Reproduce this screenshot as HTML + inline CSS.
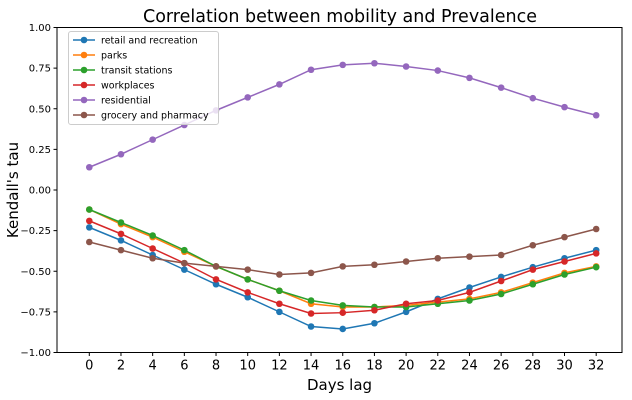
<!DOCTYPE html>
<html><head><meta charset="utf-8"><style>
body{margin:0;background:#fff;}
svg{display:block;font-family:"DejaVu Sans","Liberation Sans",sans-serif;}
</style></head><body>
<svg id="chart" width="632" height="400">
<text x="340" y="22" text-anchor="middle" font-size="17.5" fill="#000">Correlation between mobility and Prevalence</text>
<g id="axes"></g>
<g id="series"></g>
<g id="legend"></g>
</svg>
<script>
const lags=[0,2,4,6,8,10,12,14,16,18,20,22,24,26,28,30,32];
const yTicks=[1.00,0.75,0.50,0.25,0.00,-0.25,-0.50,-0.75,-1.00];
const seriesNames=["retail and recreation","parks","transit stations","workplaces","residential","grocery and pharmacy"];
const seriesColors=["#1f77b4","#ff7f0e","#2ca02c","#d62728","#9467bd","#8c564b"];
const retail=[-0.23,-0.31,-0.40,-0.49,-0.58,-0.66,-0.75,-0.84,-0.855,-0.82,-0.75,-0.67,-0.60,-0.535,-0.475,-0.42,-0.37];
const parks=[-0.12,-0.21,-0.29,-0.38,-0.47,-0.55,-0.62,-0.70,-0.72,-0.72,-0.71,-0.69,-0.67,-0.63,-0.57,-0.51,-0.47];
const transit=[-0.12,-0.20,-0.28,-0.37,-0.47,-0.55,-0.62,-0.68,-0.71,-0.72,-0.72,-0.70,-0.68,-0.64,-0.58,-0.52,-0.475];
const workplaces=[-0.19,-0.27,-0.36,-0.45,-0.55,-0.63,-0.70,-0.76,-0.755,-0.74,-0.70,-0.68,-0.63,-0.56,-0.49,-0.44,-0.39];
const residential=[0.14,0.22,0.31,0.40,0.49,0.57,0.65,0.74,0.77,0.78,0.76,0.735,0.69,0.63,0.565,0.51,0.46];
const grocery=[-0.32,-0.37,-0.42,-0.45,-0.47,-0.49,-0.52,-0.51,-0.47,-0.46,-0.44,-0.42,-0.41,-0.40,-0.34,-0.29,-0.24];
const allSeries=[retail,parks,transit,workplaces,residential,grocery];

const NS="http://www.w3.org/2000/svg";
const L=57,R=622,T=27.5,B=352.5;
const xs=v=>89.3+v*15.84;
const ys=v=>190-v*162.5;
function mk(tag,attrs,parent){const e=document.createElementNS(NS,tag);for(const k in attrs)e.setAttribute(k,attrs[k]);parent.appendChild(e);return e;}
const axes=document.getElementById('axes');
const frame=mk('rect',{x:L,y:T,width:R-L,height:B-T,fill:'none',stroke:'#000','stroke-width':1},axes);


yTicks.forEach(t=>{
  const y=ys(t);
  const tk=mk('line',{x1:L-3.5,x2:L,y1:y,y2:y,stroke:'#000'},axes);
  
  
  const tx=mk('text',{x:L-6,y:y+3.5,'text-anchor':'end','font-size':10},axes);
  tx.textContent=t.toFixed(2).replace('-','\u2212');
  
  
});
lags.forEach(t=>{
  const x=xs(t);
  const tk=mk('line',{x1:x,x2:x,y1:B,y2:B+3.5,stroke:'#000'},axes);
  
  
  const tx=mk('text',{x:x,y:B+17,'text-anchor':'middle','font-size':13},axes);
  tx.textContent=t;
  
  
});
const xt=mk('text',{x:(L+R)/2,y:390,'text-anchor':'middle','font-size':15},axes);
xt.textContent="Days lag";


const yt=mk('text',{x:0,y:0,'text-anchor':'middle','font-size':15,transform:`translate(18,${(T+B)/2}) rotate(-90)`},axes);
yt.textContent="Kendall's tau";



const sg=document.getElementById('series');
allSeries.forEach((vals,i)=>{
  const g=mk('g',{},sg);
  
  
  const pl=mk('polyline',{points:vals.map((v,j)=>xs(lags[j])+','+ys(v)).join(' '),fill:'none',stroke:seriesColors[i],'stroke-width':1.5},g);
  
  
  vals.forEach((v,j)=>{
    const c=mk('circle',{cx:xs(lags[j]),cy:ys(v),r:3.3,fill:seriesColors[i]},g);
    
    
  });
});

const lg=document.getElementById('legend');


mk('rect',{x:68.5,y:31.5,width:150,height:93,rx:2.5,fill:'#fff','fill-opacity':0.8,stroke:'#ccc'},lg);
seriesNames.forEach((n,i)=>{
  const y=40+i*15;
  const g=mk('g',{},lg);
  
  
  mk('line',{x1:73,x2:95,y1:y,y2:y,stroke:seriesColors[i],'stroke-width':1.5},g);
  mk('circle',{cx:84,cy:y,r:3.3,fill:seriesColors[i]},g);
  const t=mk('text',{x:101,y:y+3.5,'font-size':9.5},g);
  t.textContent=n;
});
</script>
</body></html>
